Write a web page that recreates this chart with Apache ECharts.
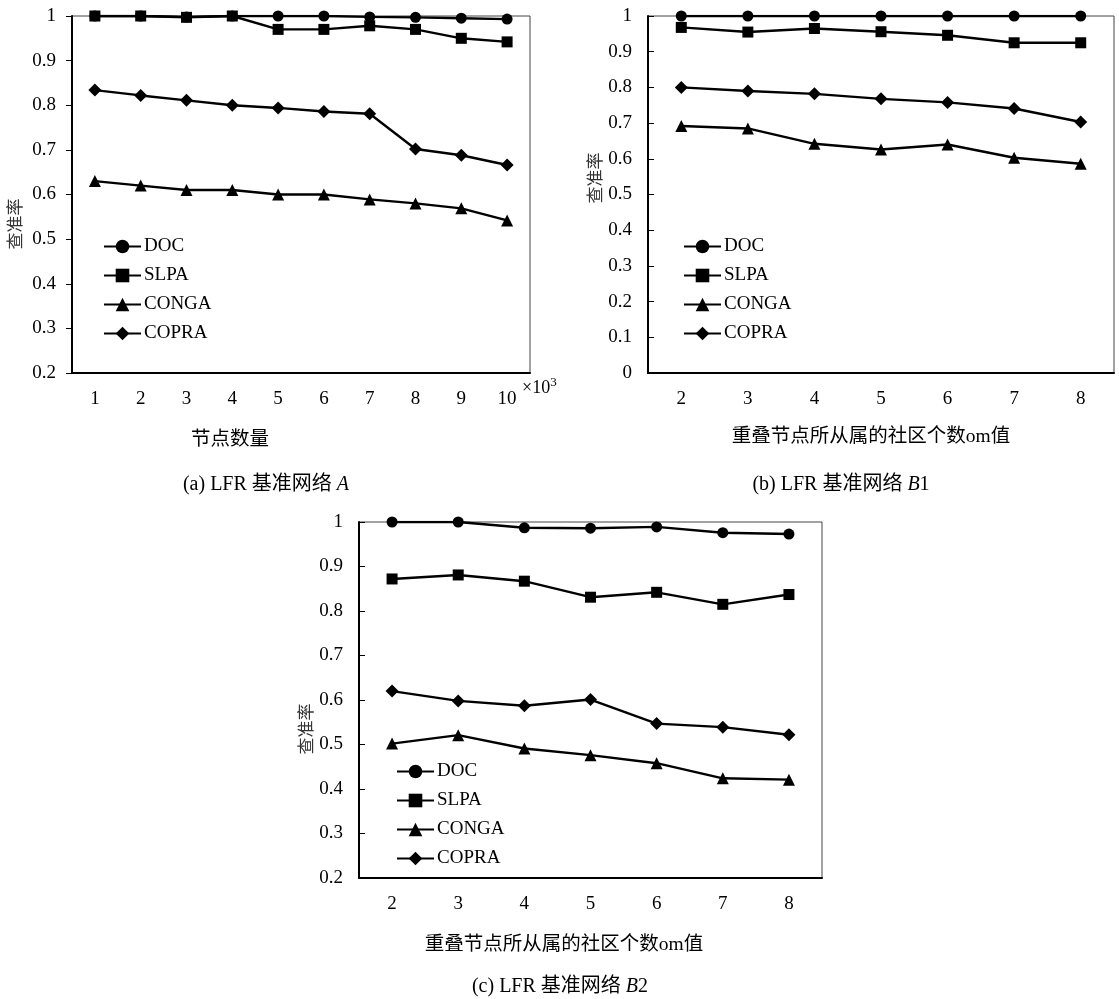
<!DOCTYPE html>
<html>
<head>
<meta charset="utf-8">
<script src="https://cdn.jsdelivr.net/npm/echarts@6/dist/echarts.min.js"></script>
<style>
html, body { margin: 0; padding: 0; background: #fff; }
#main { width: 1119px; height: 999px; }
</style>
</head>
<body>
<div id="main"></div>
<script>
// 横轴类别
var nodesA = ['1', '2', '3', '4', '5', '6', '7', '8', '9', '10'];
var omB = ['2', '3', '4', '5', '6', '7', '8'];
var names = ['DOC', 'SLPA', 'CONGA', 'COPRA'];
var symbols = ['circle', 'rect', 'triangle', 'diamond'];
var sizes = [11, 11, 12, 13];

// (a) LFR 基准网络 A
var docA = [1, 1, 0.998, 1, 1, 1, 0.998, 0.997, 0.995, 0.993];
var slpaA = [1, 1, 0.997, 1, 0.97, 0.97, 0.978, 0.97, 0.95, 0.942];
var congaA = [0.63, 0.62, 0.61, 0.61, 0.6, 0.6, 0.589, 0.58, 0.569, 0.542];
var copraA = [0.834, 0.822, 0.811, 0.8, 0.794, 0.786, 0.781, 0.702, 0.688, 0.666];

// (b) LFR 基准网络 B1
var docB = [1, 1, 1, 1, 1, 1, 1];
var slpaB = [0.968, 0.955, 0.965, 0.956, 0.946, 0.925, 0.925];
var congaB = [0.692, 0.685, 0.642, 0.626, 0.64, 0.603, 0.586];
var copraB = [0.8, 0.79, 0.782, 0.768, 0.758, 0.741, 0.703];

// (c) LFR 基准网络 B2
var docC = [1, 1, 0.987, 0.986, 0.989, 0.976, 0.973];
var slpaC = [0.872, 0.881, 0.867, 0.831, 0.842, 0.815, 0.837];
var congaC = [0.502, 0.521, 0.491, 0.476, 0.458, 0.424, 0.421];
var copraC = [0.62, 0.598, 0.587, 0.601, 0.547, 0.539, 0.522];

var font = '"Liberation Serif", "Times New Roman", "Noto Sans CJK SC", serif';
var myChart = echarts.init(document.getElementById('main'));

function xAxis(idx, cats) {
    return {
        type: 'category', gridIndex: idx, data: cats, boundaryGap: true,
        axisLine: { lineStyle: { color: '#000', width: 2 } },
        axisTick: { inside: true, length: 6, lineStyle: { color: '#000', width: 1 } },
        axisLabel: { color: '#000', fontSize: 19, fontFamily: font, margin: 17 },
        splitLine: { show: false }
    };
}
function yAxis(idx, min, inside) {
    return {
        type: 'value', gridIndex: idx, min: min, max: 1, interval: 0.1,
        axisLine: { show: true, lineStyle: { color: '#000', width: 2 } },
        axisTick: { show: true, inside: inside, length: 6, lineStyle: { color: '#000', width: 1 } },
        axisLabel: { color: '#000', fontSize: 19, fontFamily: font, margin: 16,
            formatter: function (v) { return String(Math.round(v * 10) / 10); } },
        splitLine: { show: false }
    };
}
function makeSeries(idx, arrs) {
    return arrs.map(function (d, i) {
        return {
            name: names[i], type: 'line', xAxisIndex: idx, yAxisIndex: idx,
            data: d, symbol: symbols[i], symbolSize: sizes[i],
            lineStyle: { color: '#000', width: 2.4 },
            itemStyle: { color: '#000' },
            z: 10 - i, animation: false
        };
    });
}
function legend(left, top, gap) {
    return {
        data: names, orient: 'vertical', left: left, top: top, itemGap: gap,
        padding: 0, itemWidth: 37, itemHeight: 17, selectedMode: false,
        textStyle: { color: '#000', fontSize: 19, fontFamily: font, padding: [0, 0, 0, -2] }
    };
}
// 居中放置的文字
function ctext(x, y, text, size, extra) {
    var o = { type: 'text', x: x, y: y, z: 100,
        style: { text: text, fill: '#000', fontSize: size, fontFamily: font, align: 'center', verticalAlign: 'middle' } };
    if (extra) { for (var k in extra) o.style[k] = extra[k]; }
    return o;
}
function ylab(x, y) {
    var o = ctext(x, y, '查准率', 17, { fill: '#333' });
    o.rotation = Math.PI / 2;
    return o;
}
var ital = { rich: { i: { fontStyle: 'italic', fontSize: 20, fontFamily: font } } };

var option = {
    backgroundColor: '#fff',
    animation: false,
    grid: [
        { left: 72, top: 16, width: 458, height: 357, show: true, borderColor: '#444', borderWidth: 1 },
        { left: 648, top: 16, width: 466, height: 357, show: true, borderColor: '#444', borderWidth: 1 },
        { left: 359, top: 522, width: 463, height: 356, show: true, borderColor: '#444', borderWidth: 1 }
    ],
    xAxis: [xAxis(0, nodesA), xAxis(1, omB), xAxis(2, omB)],
    yAxis: [yAxis(0, 0.2, false), yAxis(1, 0, true), yAxis(2, 0.2, true)],
    legend: [legend(103, 237, 10), legend(683, 237, 10), legend(396, 762, 10)],
    series: [].concat(
        makeSeries(0, [docA, slpaA, congaA, copraA]),
        makeSeries(1, [docB, slpaB, congaB, copraB]),
        makeSeries(2, [docC, slpaC, congaC, copraC])
    ),
    graphic: [
        { type: 'text', left: 522, top: 376, z: 100,
          style: { text: '×10{s|3}', fill: '#000', fontSize: 18, fontFamily: font,
                   rich: { s: { fontSize: 13, fontFamily: font, verticalAlign: 'top', padding: [0, 0, 12, 0] } } } },
        ctext(230, 440, '节点数量', 19.5),
        ctext(871, 437, '重叠节点所从属的社区个数om值', 19.5),
        ctext(564, 945, '重叠节点所从属的社区个数om值', 19.5),
        ylab(17, 224),
        ylab(597, 178),
        ylab(308, 729),
        ctext(266, 485, '(a) LFR 基准网络 {i|A}', 20, ital),
        ctext(841, 485, '(b) LFR 基准网络 {i|B}1', 20, ital),
        ctext(560, 987, '(c) LFR 基准网络 {i|B}2', 20, ital)
    ]
};

myChart.setOption(option);
</script>
</body>
</html>
